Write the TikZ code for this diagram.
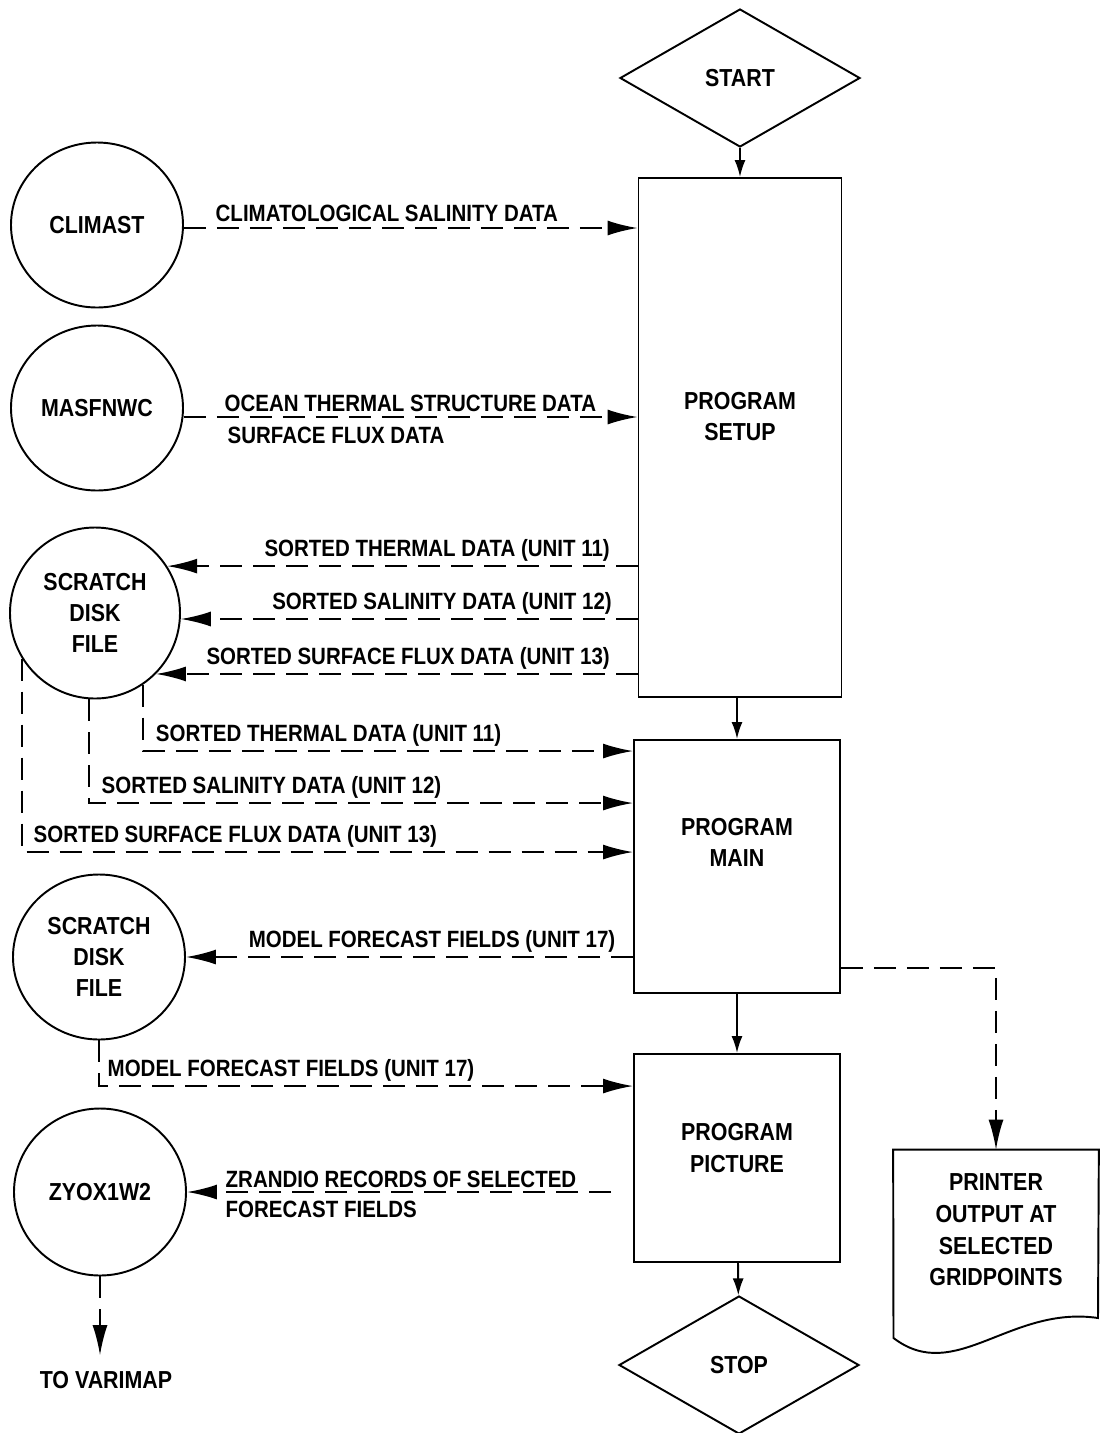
\documentclass[tikz,border=0pt]{standalone}
\usepackage{fontspec}
\setmainfont{Liberation Sans}[FakeStretch=0.87]
\usetikzlibrary{shapes.geometric,arrows.meta}
\tikzstyle{Proc}=[rectangle, draw=black, line width=1.1pt, inner sep=0pt]
\tikzstyle{Term}=[diamond, draw=black, line width=1.1pt, minimum width=48mm, minimum height=27.6mm, inner sep=0pt, font=\bfseries\fontsize{14}{17.6}\selectfont]
\tikzstyle{File}=[ellipse, draw=black, line width=1.1pt, minimum width=34.4mm, minimum height=33mm, inner sep=0pt, align=center, font=\bfseries\fontsize{14}{17.6}\selectfont]
\tikzstyle{Txt}=[align=center, font=\bfseries\fontsize{14}{18}\selectfont]
\tikzstyle{Lbl}=[inner sep=1pt, align=left, font=\bfseries\fontsize{13.4}{16}\selectfont]
\tikzstyle{Flow}=[line width=1.1pt, dash pattern=on 4.4mm off 2.2mm, -{Latex[length=6mm,width=3mm]}]
\tikzstyle{Link}=[line width=1.1pt, -{Latex[length=3.4mm,width=2.2mm]}]

\begin{document}
\begin{tikzpicture}[x=0.2mm, y=-0.2mm]
    \useasboundingbox (0,0) rectangle (1100,1433);
    \path
    (740,78) node[Term] (start) {START}
    (740,437.5) node[Proc, minimum width=40.6mm, minimum height=103.8mm, label={[Txt, yshift=4.2mm]center:{PROGRAM\\SETUP}}] (setup) {}
    (737,866.5) node[Proc, minimum width=41.2mm, minimum height=50.6mm, label={[Txt, yshift=4.8mm]center:{PROGRAM\\MAIN}}] (main) {}
    (737,1158) node[Proc, minimum width=41.2mm, minimum height=41.6mm, label={[Txt, yshift=2mm]center:{PROGRAM\\PICTURE}}] (picture) {}
    (739,1365) node[Term] (stop) {STOP}
    (996,1230) node[Txt, minimum width=41mm, minimum height=32mm, inner sep=0pt] (printer) {PRINTER\\OUTPUT AT\\SELECTED\\GRIDPOINTS};
    \path
    (97,225) node[File] (climast) {CLIMAST}
    (97,408) node[File] (masfnwc) {MASFNWC}
    (95,613) node[File, minimum width=34mm, minimum height=34.2mm] (scratch1) {SCRATCH\\DISK\\FILE}
    (99,957) node[File] (scratch2) {SCRATCH\\DISK\\FILE}
    (100,1192) node[File, minimum height=33.4mm] (zyox) {ZYOX1W2}
    (106,1380) node[Txt, inner sep=1pt] (varimap) {TO VARIMAP};

    \draw[line width=1.1pt] (printer.north west) -- (printer.north east) -- (1098,1318)
        .. controls (1010,1305) and (955,1385) .. (893.5,1338) -- cycle;

    \draw[Link] (start) -- (setup);
    \draw[Link] (setup.south -| main) -- (main);
    \draw[Link] (main) -- (picture);
    \draw[Link] (picture) -- (stop);

    \draw[Flow] ([yshift=-0.6mm]climast.east) -- ([yshift=-0.6mm]climast.east -| setup.west)
        node[Lbl, pos=0, anchor=south west, xshift=5.8mm, yshift=0.8mm] {CLIMATOLOGICAL SALINITY DATA};
    \draw[Flow] ([yshift=-1.8mm]masfnwc.east) -- ([yshift=-1.8mm]masfnwc.east -| setup.west)
        node[Lbl, pos=0, anchor=south west, xshift=7.6mm, yshift=0.6mm] {OCEAN THERMAL STRUCTURE DATA}
        node[Lbl, pos=0, anchor=north west, xshift=8.2mm, yshift=-1.4mm] {SURFACE FLUX DATA};

    \draw[Flow] (scratch1.33 -| setup.west) -- (scratch1.33)
        node[Lbl, pos=0, anchor=south east, xshift=-5mm, yshift=0.4mm] {SORTED THERMAL DATA (UNIT 11)};
    \draw[Flow] (scratch1.-4 -| setup.west) -- (scratch1.-4)
        node[Lbl, pos=0, anchor=south east, xshift=-4.6mm, yshift=0.4mm] {SORTED SALINITY DATA (UNIT 12)};
    \draw[Flow] (scratch1.-45 -| setup.west) -- (scratch1.-45)
        node[Lbl, pos=0, anchor=south east, xshift=-5mm, yshift=0.4mm] {SORTED SURFACE FLUX DATA (UNIT 13)};

    \draw[Flow] (scratch1.-56) |- ([yshift=-2.4mm]main.north west)
        node[Lbl, pos=0.5, anchor=south west, xshift=2mm, yshift=0.4mm] {SORTED THERMAL DATA (UNIT 11)};
    \draw[Flow] (scratch1.-94) |- ([yshift=-12.8mm]main.north west)
        node[Lbl, pos=0.5, anchor=south west, xshift=2mm, yshift=0.4mm] {SORTED SALINITY DATA (UNIT 12)};
    \draw[Flow] (scratch1.212) |- ([yshift=-22.6mm]main.north west)
        node[Lbl, pos=0.5, anchor=south west, xshift=1.8mm, yshift=0.4mm] {SORTED SURFACE FLUX DATA (UNIT 13)};

    \draw[Flow] (scratch2.east -| main.west) -- (scratch2.east)
        node[Lbl, pos=0, anchor=south east, xshift=-3mm, yshift=0.4mm] {MODEL FORECAST FIELDS (UNIT 17)};
    \draw[Flow] (scratch2.south) |- ([yshift=-6.6mm]picture.north west)
        node[Lbl, pos=0.5, anchor=south west, xshift=1.2mm, yshift=0.4mm] {MODEL FORECAST FIELDS (UNIT 17)};

    \draw[Flow, shorten <=4.4mm] (zyox.east -| picture.west) -- (zyox.east)
        node[Lbl, pos=1, anchor=south west, xshift=7.2mm, yshift=0.4mm] {ZRANDIO RECORDS OF SELECTED}
        node[Lbl, pos=1, anchor=north west, xshift=7.2mm, yshift=-1.2mm] {FORECAST FIELDS};
    \draw[Flow, shorten >=2.8mm] (zyox.south) -- (zyox.south |- varimap.north);

    \draw[Flow] ([yshift=5.2mm]main.south east) -| (printer.north);
\end{tikzpicture}
\end{document}
